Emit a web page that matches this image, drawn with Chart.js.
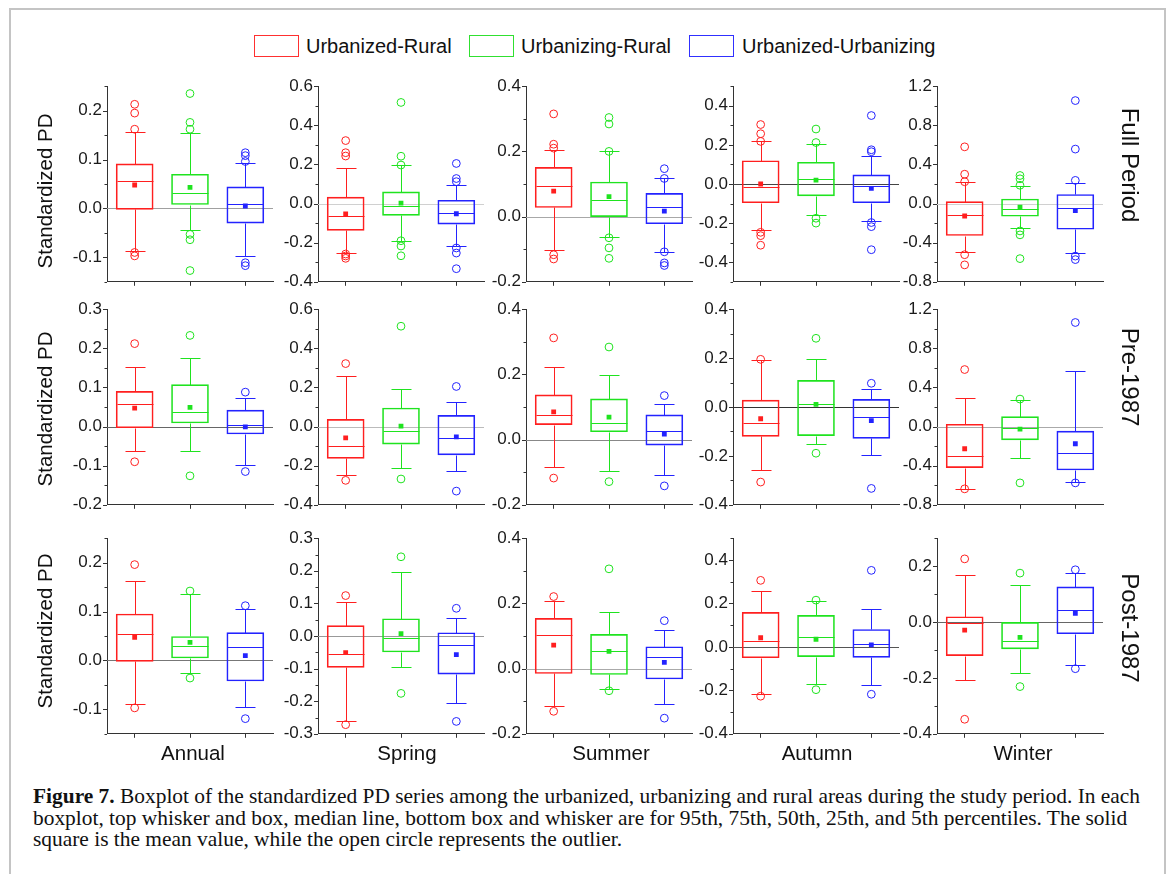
<!DOCTYPE html>
<html>
<head>
<meta charset="utf-8">
<title>Standardized PD boxplots</title>
<script src="https://cdn.jsdelivr.net/npm/chart.js@4.4.0/dist/chart.umd.min.js"></script>
<style>
  html, body { margin: 0; padding: 0; background: #fff; }
  body { width: 1171px; height: 874px; position: relative; overflow: hidden;
         font-family: "Liberation Sans", Arial, sans-serif; color: #111; }
  #frame { position: absolute; left: 9px; top: 8px; width: 1157px; height: 900px;
           border: 2px solid #c4c4c4; border-bottom: none; box-sizing: border-box; }
  canvas.panel { position: absolute; }
  .txt { position: absolute; white-space: nowrap; line-height: 1; }
  .lgbox { position: absolute; width: 45px; height: 22px; box-sizing: border-box; }
  .lgtxt { position: absolute; font-size: 20px; line-height: 22px; white-space: nowrap; }
  #caption { position: absolute; left: 33px; top: 786px; font-family: "Liberation Serif", "Times New Roman", serif;
             line-height: 21.7px; white-space: nowrap; color: #111; }
</style>
</head>
<body>
<div id="frame"></div>

<div class="lgbox" style="left:254px;top:35px;border:1px solid #ff3030;"></div>
<div class="lgtxt" style="left:306px;top:35px;">Urbanized-Rural</div>
<div class="lgbox" style="left:469px;top:35px;border:1px solid #30e030;"></div>
<div class="lgtxt" style="left:521px;top:35px;">Urbanizing-Rural</div>
<div class="lgbox" style="left:689px;top:35px;border:1px solid #3030ff;"></div>
<div class="lgtxt" style="left:742px;top:35px;">Urbanized-Urbanizing</div>

<div id="caption">
  <div id="cap1"><b>Figure 7.</b> Boxplot of the standardized PD series among the urbanized, urbanizing and rural areas during the study period. In each</div>
  <div>boxplot, top whisker and box, median line, bottom box and whisker are for 95th, 75th, 50th, 25th, and 5th percentiles. The solid</div>
  <div>square is the mean value, while the open circle represents the outlier.</div>
</div>

<script>
// ---- categories and labels ----
const groups  = ['Urbanized-Rural', 'Urbanizing-Rural', 'Urbanized-Urbanizing'];
const seasons = ['Annual', 'Spring', 'Summer', 'Autumn', 'Winter'];
const periods = ['Full Period', 'Pre-1987', 'Post-1987'];

// ---- Full period statistics: [season][group] ----
const fullP95    = [[0.156, 0.154, 0.092], [0.180, 0.197, 0.093], [0.205, 0.200, 0.117], [0.218, 0.202, 0.143], [0.223, 0.180, 0.210]];
const fullQ3     = [[0.091, 0.070, 0.044], [0.033, 0.060, 0.017], [0.151, 0.106, 0.071], [0.119, 0.111, 0.047], [0.020, 0.047, 0.093]];
const fullMedian = [[0.056, 0.032, 0.009], [-0.065, -0.013, -0.047], [0.094, 0.051, 0.028], [-0.015, 0.027, -0.012], [-0.113, -0.053, -0.047]];
const fullQ1     = [[-0.002, 0.008, -0.030], [-0.137, -0.060, -0.105], [0.028, 0.000, -0.022], [-0.096, -0.061, -0.096], [-0.327, -0.130, -0.263]];
const fullP5     = [[-0.087, -0.044, -0.097], [-0.253, -0.190, -0.215], [-0.102, -0.062, -0.108], [-0.235, -0.161, -0.190], [-0.497, -0.250, -0.510]];
const fullMean   = [[0.048, 0.043, 0.005], [-0.053, 0.002, -0.052], [0.078, 0.061, 0.017], [0.000, 0.020, -0.022], [-0.127, -0.037, -0.073]];
const fullOutliers = [
  [[0.213, 0.195, 0.162, -0.090, -0.097], [0.235, 0.176, 0.162, -0.053, -0.064, -0.127], [0.114, 0.108, 0.096, -0.111, -0.117]],
  [[0.322, 0.260, 0.243, -0.258, -0.268, -0.280], [0.517, 0.242, 0.197, -0.190, -0.217, -0.267], [0.205, 0.128, 0.112, -0.227, -0.253, -0.333]],
  [[0.315, 0.222, 0.210, -0.117, -0.130], [0.304, 0.284, 0.200, -0.065, -0.096, -0.128], [0.147, 0.117, -0.108, -0.142, -0.150]],
  [[0.304, 0.257, 0.218, -0.247, -0.264, -0.313], [0.281, 0.212, -0.175, -0.200], [0.350, 0.175, 0.165, -0.197, -0.218, -0.336]],
  [[0.580, 0.300, 0.223, -0.523, -0.627], [0.287, 0.253, 0.187, -0.280, -0.320, -0.563], [1.053, 0.557, 0.237, -0.537, -0.573]]
];

// ---- Pre-1987 statistics ----
const preP95    = [[0.151, 0.176, 0.074], [0.260, 0.192, 0.127], [0.224, 0.199, 0.110], [0.193, 0.196, 0.073], [0.292, 0.268, 0.566]];
const preQ3     = [[0.090, 0.107, 0.042], [0.037, 0.095, 0.057], [0.137, 0.125, 0.076], [0.028, 0.109, 0.031], [0.024, 0.102, -0.047]];
const preMedian = [[0.058, 0.038, 0.004], [-0.097, -0.022, -0.058], [0.074, 0.050, 0.026], [-0.064, 0.013, -0.039], [-0.302, -0.014, -0.275]];
const preQ1     = [[-0.003, 0.009, -0.019], [-0.163, -0.090, -0.145], [0.046, 0.024, -0.017], [-0.120, -0.117, -0.128], [-0.420, -0.136, -0.444]];
const preP5     = [[-0.063, -0.063, -0.099], [-0.248, -0.212, -0.228], [-0.085, -0.096, -0.108], [-0.257, -0.151, -0.196], [-0.637, -0.319, -0.563]];
const preMean   = [[0.047, 0.049, -0.001], [-0.058, 0.002, -0.053], [0.085, 0.069, 0.017], [-0.048, 0.011, -0.056], [-0.227, -0.027, -0.176]];
const preOutliers = [
  [[0.212, -0.090], [0.233, -0.126], [0.088, -0.115]],
  [[0.322, -0.275], [0.513, -0.268], [0.205, -0.330]],
  [[0.312, -0.118], [0.284, -0.129], [0.135, -0.142]],
  [[0.195, -0.307], [0.281, -0.189], [0.097, -0.333]],
  [[0.583, -0.637], [0.281, -0.576], [1.064, -0.576]]
];

// ---- Post-1987 statistics ----
const postP95    = [[0.162, 0.136, 0.106], [0.105, 0.196, 0.056], [0.208, 0.175, 0.118], [0.256, 0.209, 0.174], [0.168, 0.131, 0.175]];
const postQ3     = [[0.095, 0.049, 0.057], [0.032, 0.053, 0.010], [0.154, 0.105, 0.067], [0.159, 0.145, 0.080], [0.019, -0.001, 0.126]];
const postMedian = [[0.054, 0.030, 0.028], [-0.056, -0.007, -0.029], [0.102, 0.053, 0.036], [0.027, 0.045, 0.011], [-0.002, -0.068, 0.044]];
const postQ1     = [[-0.002, 0.005, -0.042], [-0.096, -0.049, -0.117], [-0.015, -0.018, -0.032], [-0.050, -0.045, -0.048], [-0.120, -0.096, -0.042]];
const postP5     = [[-0.089, -0.025, -0.095], [-0.260, -0.094, -0.205], [-0.116, -0.063, -0.108], [-0.217, -0.171, -0.176], [-0.206, -0.184, -0.155]];
const postMean   = [[0.047, 0.037, 0.010], [-0.051, 0.007, -0.057], [0.072, 0.053, 0.019], [0.042, 0.035, 0.009], [-0.029, -0.055, 0.031]];
const postOutliers = [
  [[0.196, -0.097], [0.142, -0.036], [0.112, -0.119]],
  [[0.124, -0.272], [0.243, -0.176], [0.085, -0.262]],
  [[0.221, -0.131], [0.306, -0.068], [0.147, -0.152]],
  [[0.306, -0.227], [0.215, -0.197], [0.352, -0.218]],
  [[0.226, -0.348], [0.175, -0.231], [0.187, -0.167]]
];

// ---- y-axis ranges and labelled tick spacing, per season ----
const fullYMin = [-0.15, -0.4, -0.2, -0.5, -0.8];
const fullYMax = [0.25, 0.6, 0.4, 0.5, 1.2];
const fullYStep = [0.1, 0.2, 0.2, 0.2, 0.4];
const preYMin  = [-0.2, -0.4, -0.2, -0.4, -0.8];
const preYMax  = [0.3, 0.6, 0.4, 0.4, 1.2];
const preYStep = [0.1, 0.2, 0.2, 0.2, 0.4];
const postYMin = [-0.15, -0.3, -0.2, -0.4, -0.4];
const postYMax = [0.25, 0.3, 0.4, 0.5, 0.3];
const postYStep = [0.1, 0.1, 0.2, 0.2, 0.2];

// ---- styling ----
const seriesColors = ['#ff1f1f', '#1fe31f', '#2323ff'];
const zeroLineColors = [
  ['#a0a0a0', '#d0d0d0', '#a8a8a8', '#444444', '#d0d0d0'],
  ['#666666', '#bbbbbb', '#888888', '#333333', '#aaaaaa'],
  ['#777777', '#999999', '#aaaaaa', '#555555', '#666666']
];
const colX = [107, 318, 526, 733, 937];
const rowTop = [85, 308, 537];
const plotW = 167, plotH = 198;
const PAD_L = 52, PAD_T = 14, PAD_R = 4, PAD_B = 14;
const tickFont = { family: '"Liberation Sans", Arial, sans-serif', size: 17 };

const periodTables = [
  { p95: fullP95, q3: fullQ3, med: fullMedian, q1: fullQ1, p5: fullP5, mean: fullMean, out: fullOutliers, ymin: fullYMin, ymax: fullYMax, step: fullYStep },
  { p95: preP95,  q3: preQ3,  med: preMedian,  q1: preQ1,  p5: preP5,  mean: preMean,  out: preOutliers,  ymin: preYMin,  ymax: preYMax,  step: preYStep },
  { p95: postP95, q3: postQ3, med: postMedian, q1: postQ1, p5: postP5, mean: postMean, out: postOutliers, ymin: postYMin, ymax: postYMax, step: postYStep }
];

function isMajor(v, step) {
  const r = v / step;
  return Math.abs(r - Math.round(r)) < 1e-6;
}

// whiskers, medians, zero line and y tick marks, placed through the chart scales
const boxPlugin = {
  id: 'boxStats',
  beforeDatasetsDraw(chart, args, opts) {
    const { ctx, chartArea: a, scales: { x, y } } = chart;
    ctx.save();
    // reference line at zero
    const y0 = Math.round(y.getPixelForValue(0)) + 0.5;
    ctx.strokeStyle = opts.zeroColor;
    ctx.lineWidth = 1;
    ctx.beginPath(); ctx.moveTo(a.left, y0); ctx.lineTo(a.right, y0); ctx.stroke();
    // whiskers and medians
    opts.q1.forEach((q1, i) => {
      const cx = Math.round(x.getPixelForValue(i)) + 0.5;
      const py = v => Math.round(y.getPixelForValue(v)) + 0.5;
      ctx.strokeStyle = seriesColors[i];
      ctx.beginPath();
      ctx.moveTo(cx, py(opts.q3[i])); ctx.lineTo(cx, py(opts.p95[i]));
      ctx.moveTo(cx - 10, py(opts.p95[i])); ctx.lineTo(cx + 10, py(opts.p95[i]));
      ctx.moveTo(cx, py(q1)); ctx.lineTo(cx, py(opts.p5[i]));
      ctx.moveTo(cx - 10, py(opts.p5[i])); ctx.lineTo(cx + 10, py(opts.p5[i]));
      ctx.moveTo(cx - 18, py(opts.med[i])); ctx.lineTo(cx + 18, py(opts.med[i]));
      ctx.stroke();
    });
    ctx.restore();
  },
  afterDraw(chart, args, opts) {
    const { ctx, chartArea: a, scales: { y } } = chart;
    ctx.save();
    ctx.strokeStyle = '#333';
    ctx.lineWidth = 1;
    ctx.beginPath();
    y.ticks.forEach(t => {
      const py = Math.round(y.getPixelForValue(t.value)) + 0.5;
      const len = isMajor(t.value, opts.major) ? 4 : 2.5;
      ctx.moveTo(a.left - len, py); ctx.lineTo(a.left, py);
    });
    ctx.stroke();
    ctx.restore();
  }
};

function makePanel(r, c) {
  const T = periodTables[r];
  const canvas = document.createElement('canvas');
  canvas.className = 'panel';
  const w = PAD_L + plotW + PAD_R, h = PAD_T + plotH + PAD_B;
  canvas.width = w; canvas.height = h;
  canvas.style.left = (colX[c] - PAD_L) + 'px';
  canvas.style.top = (rowTop[r] - PAD_T) + 'px';
  canvas.style.width = w + 'px'; canvas.style.height = h + 'px';
  document.body.appendChild(canvas);

  const boxes = groups.map((g, i) => [T.q1[c][i], T.q3[c][i]]);
  const means = groups.map((g, i) => ({ x: g, y: T.mean[c][i] }));
  const outs = [];
  groups.forEach((g, i) => T.out[c][i].forEach(v => outs.push({ x: g, y: v, g: i })));
  const major = T.step[c];

  new Chart(canvas, {
    type: 'bar',
    data: {
      labels: groups,
      datasets: [
        { type: 'bar', data: boxes, backgroundColor: 'rgba(0,0,0,0)', borderColor: seriesColors,
          borderWidth: 1, borderSkipped: false, barThickness: 37, order: 3 },
        { type: 'line', data: outs, showLine: false, pointStyle: 'circle', pointRadius: 3.9,
          pointBorderWidth: 1, pointBackgroundColor: 'rgba(0,0,0,0)',
          pointBorderColor: ctx => seriesColors[ctx.raw ? ctx.raw.g : 0], order: 2 },
        { type: 'line', data: means, showLine: false, pointStyle: 'rect', pointRadius: 3.4,
          pointBorderWidth: 0, pointBackgroundColor: seriesColors, order: 1 }
      ]
    },
    options: {
      responsive: false, animation: false, devicePixelRatio: 1,
      layout: { padding: { left: 0, right: PAD_R, top: PAD_T, bottom: 0 } },
      events: [],
      plugins: {
        legend: { display: false }, tooltip: { enabled: false },
        boxStats: { q1: T.q1[c], q3: T.q3[c], med: T.med[c], p5: T.p5[c], p95: T.p95[c],
                    zeroColor: zeroLineColors[r][c], major: major }
      },
      scales: {
        x: {
          type: 'category', offset: true,
          grid: { display: true, drawOnChartArea: false, drawTicks: true, tickLength: 4,
                  offset: false, tickColor: '#333' },
          border: { display: true, color: '#333', width: 1 },
          ticks: { display: false },
          afterFit: s => { s.height = PAD_B; }
        },
        y: {
          min: T.ymin[c], max: T.ymax[c],
          grid: { display: true, drawOnChartArea: false, drawTicks: false },
          border: { display: true, color: '#333', width: 1 },
          ticks: {
            stepSize: major / 2, autoSkip: false, padding: 5, color: '#1a1a1a', font: tickFont,
            callback: v => {
              if (!isMajor(v, major)) return '';
              const val = Math.abs(v) < 1e-9 ? 0 : v;
              return val.toFixed(1);
            }
          },
          afterFit: s => { s.width = PAD_L; }
        }
      }
    },
    plugins: [boxPlugin]
  });
}

for (let r = 0; r < 3; r++) for (let c = 0; c < 5; c++) makePanel(r, c);

// text labels around the grid
function addText(text, cx, cy, size, rot) {
  const d = document.createElement('div');
  d.className = 'txt';
  d.textContent = text;
  d.style.left = cx + 'px'; d.style.top = cy + 'px';
  d.style.fontSize = size + 'px';
  d.style.transform = 'translate(-50%,-50%)' + (rot ? ' rotate(' + rot + 'deg)' : '');
  document.body.appendChild(d);
}
const seasonX = [193, 407, 611, 817, 1023];
seasons.forEach((s, i) => addText(s, seasonX[i], 753, 20.5, 0));
const rowLabelY = [165, 377, 628];
periods.forEach((p, i) => addText(p, 1130, rowLabelY[i], 24, 90));
const yTitleY = [191, 409, 631];
yTitleY.forEach(y => addText('Standardized PD', 45, y, 20.5, -90));

// caption sized so the first line spans the text column
(function () {
  const m = document.createElement('canvas').getContext('2d');
  const line1 = ' Boxplot of the standardized PD series among the urbanized, urbanizing and rural areas during the study period. In each';
  m.font = 'bold 100px "Liberation Serif"';
  let wdt = m.measureText('Figure 7.').width;
  m.font = '100px "Liberation Serif"';
  wdt += m.measureText(line1).width;
  const size = 100 * 1108 / wdt;
  document.getElementById('caption').style.fontSize = size.toFixed(2) + 'px';
})();
</script>
</body>
</html>
